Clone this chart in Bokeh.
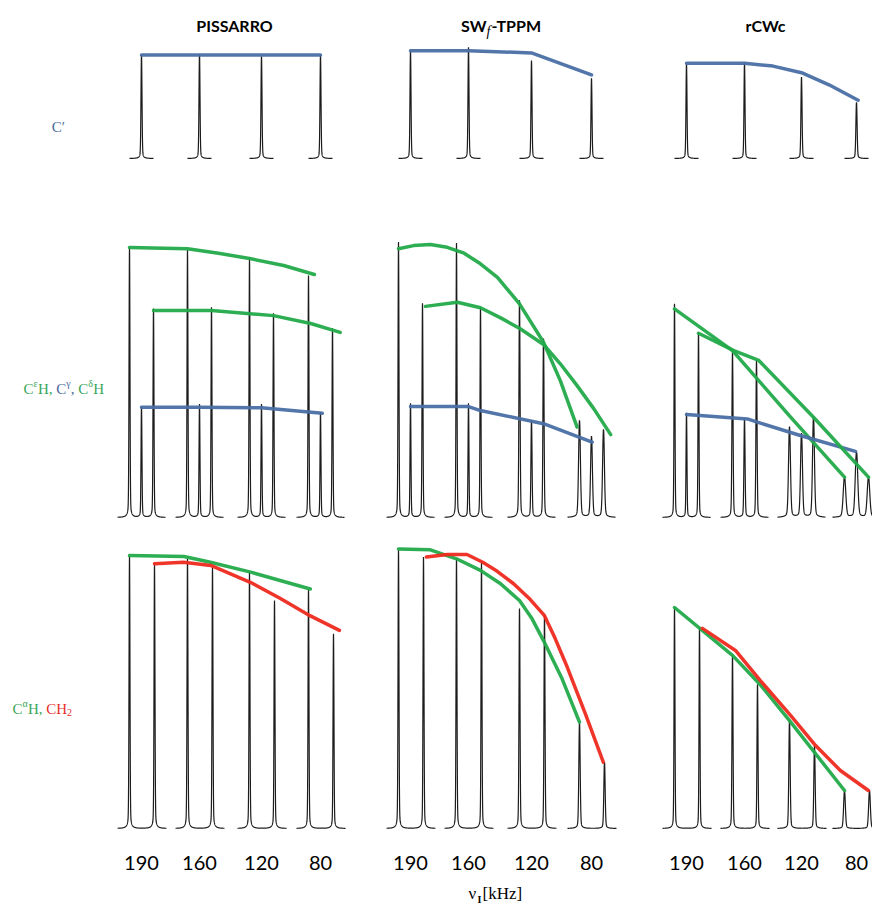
import numpy as np
from bokeh.plotting import figure
from bokeh.models import Range1d
from bokeh.core.properties import value
from bokeh.embed import file_html
from bokeh.resources import INLINE

# ---------------- data ----------------
GROUP_LABELS = ["190", "160", "120", "80"]            # nu1 [kHz] of each peak group
METHODS = ["PISSARRO", "SWf-TPPM", "rCWc"]

# Row 1 : C'  (relative peak intensities, one peak per group)
CP_PEAKS = {"PISSARRO": [0.94, 0.95, 0.93, 0.94],
            "SWf-TPPM": [0.98, 1.01, 0.89, 0.73],
            "rCWc":     [0.86, 0.87, 0.74, 0.51]}
CP_TREND_G = {"PISSARRO": [0, 3], "SWf-TPPM": [0, 1, 2, 3],
              "rCWc": [0, 1, 1.5, 2, 2.5, 3.03]}
CP_TREND_I = {"PISSARRO": [0.94, 0.94], "SWf-TPPM": [0.98, 0.98, 0.96, 0.76],
              "rCWc": [0.865, 0.865, 0.84, 0.78, 0.67, 0.53]}

# Row 2 : CeH (green, left), Cg (blue, middle), CdH (green, right)
CEH_PEAKS = {"PISSARRO": [0.964, 0.957, 0.925, 0.864],
             "SWf-TPPM": [0.983, 0.98, 0.775, 0.346],
             "rCWc":     [0.763, 0.59, 0.323, 0.144]}
CG_PEAKS = {"PISSARRO": [0.396, 0.404, 0.404, 0.375],
            "SWf-TPPM": [0.407, 0.407, 0.346, 0.289],
            "rCWc":     [0.373, 0.352, 0.299, 0.233]}
CDH_PEAKS = {"PISSARRO": [0.746, 0.75, 0.729, 0.675],
             "SWf-TPPM": [0.765, 0.75, 0.639, 0.314],
             "rCWc":     [0.662, 0.561, 0.358, 0.144]}
CEH_TREND_G = {"PISSARRO": [0, 1, 1.5, 2, 2.58, 3.1],
               "SWf-TPPM": [0, 0.26, 0.55, 0.84, 1.12, 1.38, 1.65, 2, 2.4, 2.68, 2.96],
               "rCWc": [0, 1, 2, 3]}
CEH_TREND_I = {"PISSARRO": [0.964, 0.96, 0.944, 0.925, 0.9, 0.868],
               "SWf-TPPM": [0.96, 0.971, 0.975, 0.965, 0.944, 0.906, 0.858, 0.763,
                            0.626, 0.489, 0.323],
               "rCWc": [0.745, 0.596, 0.363, 0.144]}
CG_TREND_G = {"PISSARRO": [0, 1, 2, 3.03],
              "SWf-TPPM": [0, 1, 1.19, 2.2, 3.01],
              "rCWc": [0, 1.05, 1.28, 1.98, 2.98]}
CG_TREND_I = {"PISSARRO": [0.394, 0.394, 0.392, 0.372],
              "SWf-TPPM": [0.396, 0.396, 0.382, 0.335, 0.269],
              "rCWc": [0.368, 0.352, 0.337, 0.293, 0.236]}
CDH_TREND_G = {"PISSARRO": [0, 1, 2, 2.63, 3.13],
               "SWf-TPPM": [0.05, 0.6, 1, 1.32, 1.63, 2, 2.28, 2.56, 2.84, 3.12],
               "rCWc": [0, 0.61, 1.04, 2, 3]}
CDH_TREND_I = {"PISSARRO": [0.739, 0.739, 0.721, 0.693, 0.661],
               "SWf-TPPM": [0.754, 0.769, 0.749, 0.713, 0.674, 0.618, 0.549, 0.471,
                            0.388, 0.296],
               "rCWc": [0.658, 0.596, 0.561, 0.358, 0.144]}

# Row 3 : CaH (green, left), CH2 (red, right)
CAH_PEAKS = {"PISSARRO": [0.941, 0.93, 0.884, 0.826],
             "SWf-TPPM": [0.964, 0.93, 0.758, 0.367],
             "rCWc":     [0.762, 0.597, 0.372, 0.131]}
CH2_PEAKS = {"PISSARRO": [0.913, 0.901, 0.786, 0.671],
             "SWf-TPPM": [0.936, 0.918, 0.734, 0.229],
             "rCWc":     [0.693, 0.497, 0.286, 0.131]}
CAH_TREND_G = {"PISSARRO": [0, 0.94, 1.37, 2.02, 3.03],
               "SWf-TPPM": [0, 0.55, 1, 1.38, 1.7, 2, 2.21, 2.4, 2.71, 3],
               "rCWc": [0, 1, 1.5, 2, 3]}
CAH_TREND_I = {"PISSARRO": [0.941, 0.938, 0.918, 0.884, 0.826],
               "SWf-TPPM": [0.964, 0.961, 0.93, 0.89, 0.844, 0.786, 0.723, 0.648,
                            0.516, 0.367],
               "rCWc": [0.762, 0.597, 0.493, 0.372, 0.131]}
CH2_TREND_G = {"PISSARRO": [0, 0.5, 0.97, 1.61, 2.1, 2.6, 3.1],
               "SWf-TPPM": [0.05, 0.41, 0.75, 1.02, 1.25, 1.51, 1.75, 2.0, 2.18, 2.38,
                            2.68, 2.98],
               "rCWc": [0.05, 0.62, 1.05, 1.58, 2.02, 2.47, 2.98]}
CH2_TREND_I = {"PISSARRO": [0.913, 0.918, 0.907, 0.849, 0.793, 0.734, 0.683],
               "SWf-TPPM": [0.936, 0.945, 0.945, 0.918, 0.887, 0.844, 0.795, 0.734,
                            0.654, 0.556, 0.396, 0.229],
               "rCWc": [0.69, 0.614, 0.51, 0.39, 0.286, 0.2, 0.131]}

# ---------------- layout & style ----------------
W, H = 872, 910
COL_CENTERS = {"PISSARRO": [141, 199, 261, 320],
               "SWf-TPPM": [410, 468, 531, 591],
               "rCWc": [686, 744, 801, 856]}
ROW_BASE = [158, 517, 828]
ROW_SCALE = [110, 280, 290]
BLUE, GREEN, RED = "#4a6fa5", "#22aa4a", "#ee2a1e"
SPEC = "#1c1c1c"

ROWS = [
    [(CP_PEAKS, CP_TREND_G, CP_TREND_I, BLUE, 0)],
    [(CEH_PEAKS, CEH_TREND_G, CEH_TREND_I, GREEN, -12),
     (CG_PEAKS, CG_TREND_G, CG_TREND_I, BLUE, 0),
     (CDH_PEAKS, CDH_TREND_G, CDH_TREND_I, GREEN, 12)],
    [(CAH_PEAKS, CAH_TREND_G, CAH_TREND_I, GREEN, -12),
     (CH2_PEAKS, CH2_TREND_G, CH2_TREND_I, RED, 13)],
]
# line-width factor per row / method / group
WIDTHS = {
    0: {"PISSARRO": [1.0] * 4, "SWf-TPPM": [1.0] * 4, "rCWc": [1.0, 1.0, 1.1, 1.2]},
    1: {"PISSARRO": [0.9] * 4, "SWf-TPPM": [0.9, 0.9, 1.1, 1.8], "rCWc": [0.9, 1.1, 1.9, 2.5]},
    2: {"PISSARRO": [0.9] * 4, "SWf-TPPM": [0.9, 0.9, 1.0, 1.3], "rCWc": [0.9, 1.0, 1.3, 1.7]},
}


def gx(centers, g):
    g = np.asarray(g, dtype=float)
    c = np.asarray(centers, dtype=float)
    idx = np.clip(np.floor(g).astype(int), 0, 2)
    return c[idx] + (g - idx) * (c[idx + 1] - c[idx])


def shape(dx, w):
    # narrow pseudo-Voigt line shape, 1 at the centre
    return 0.92 * np.exp(-(dx / (0.7 * w)) ** 2) + 0.08 / (1.0 + (dx / (1.3 * w)) ** 2)


p = figure(width=W, height=H, x_range=Range1d(0, W), y_range=Range1d(H, 0),
           output_backend="svg", toolbar_location=None, min_border=0,
           x_axis_type=None, y_axis_type=None)
p.grid.visible = False
p.outline_line_color = None
p.background_fill_color = "white"
p.border_fill_color = "white"

# spectra
for r, row in enumerate(ROWS):
    xs_all, ys_all = [], []
    for m in METHODS:
        cen = COL_CENTERS[m]
        for g in range(4):
            pk_x = [cen[g] + s[4] for s in row]
            pk_h = [ROW_SCALE[r] * s[0][m][g] for s in row]
            w = WIDTHS[r][m][g]
            xs = np.arange(min(pk_x) - 12, max(pk_x) + 12.01, 0.1)
            xs = np.union1d(xs, pk_x)
            ys = np.full_like(xs, float(ROW_BASE[r]))
            for x0, h in zip(pk_x, pk_h):
                ys -= h * shape(xs - x0, w)
            xs_all.append(xs)
            ys_all.append(ys)
    p.multi_line(xs_all, ys_all, line_color=SPEC, line_width=1.2)

# trend lines
for r, row in enumerate(ROWS):
    for m in METHODS:
        for peaks, tg, ti, col, off in row:
            xs = gx(COL_CENTERS[m], tg[m]) + off
            ys = ROW_BASE[r] - ROW_SCALE[r] * np.asarray(ti[m])
            p.line(xs, ys, line_color=col, line_width=3.5, line_alpha=0.95,
                   line_join="round", line_cap="round")


def txt(x, y, s, color="black", size=15, font="Liberation Serif", style="normal", align="left"):
    p.text(x=[x], y=[y], text=[s], text_font=value(font), text_font_size=f"{size}px",
           text_color=color, text_font_style=style, text_align=align, text_baseline="middle")


def runs(x, y, parts):
    for s, color, size, dy, wid in parts:
        txt(x, y + dy, s, color=color, size=size)
        x += wid


# column titles
TITLE_FONT = "Lato"
txt(234, 25, "PISSARRO", size=16, font=TITLE_FONT, style="bold", align="center")
txt(486, 25, "SW", size=16, font=TITLE_FONT, style="bold", align="right")
txt(486, 31, "f", size=14, font="Liberation Serif", style="italic", align="left")
txt(491, 25, "-TPPM", size=16, font=TITLE_FONT, style="bold", align="left")
txt(765, 25, "rCWc", size=16, font=TITLE_FONT, style="bold", align="center")

# row labels
TGREEN, TBLUE, TRED = "#3aa65a", "#4a6a9c", "#e8302a"
txt(58, 126, "C\u2032", color=TBLUE, size=15, align="center")
runs(23, 388, [("C", TGREEN, 15, 0, 10.0), ("\u03b5", TGREEN, 10, -5, 4.4),
               ("H,", TGREEN, 15, 0, 14.6 + 3.7), ("C", TBLUE, 15, 0, 10.0),
               ("\u03b3", TBLUE, 10, -5, 4.5), (",", TBLUE, 15, 0, 3.75 + 3.7),
               ("C", TGREEN, 15, 0, 10.0), ("\u03b4", TGREEN, 10, -5, 5.0),
               ("H", TGREEN, 15, 0, 10.8)])
runs(12, 708, [("C", TGREEN, 15, 0, 10.0), ("\u03b1", TGREEN, 10, -5, 5.5),
               ("H,", TGREEN, 15, 0, 14.6 + 3.7), ("C", TRED, 15, 0, 10.0),
               ("H", TRED, 15, 0, 10.8), ("2", TRED, 10, 4, 5.0)])

# frequency tick labels below each column
for m in METHODS:
    for c, lab in zip(COL_CENTERS[m], GROUP_LABELS):
        txt(c, 862, lab, size=20, font="Lato", align="center")

# x label  nu_I [kHz]
txt(468, 893, "\u03bd", size=17)
txt(477, 899, "I", size=10, style="bold")
txt(482, 893, "[kHz]", size=17)

open("out.html", "w").write(file_html(p, INLINE))
